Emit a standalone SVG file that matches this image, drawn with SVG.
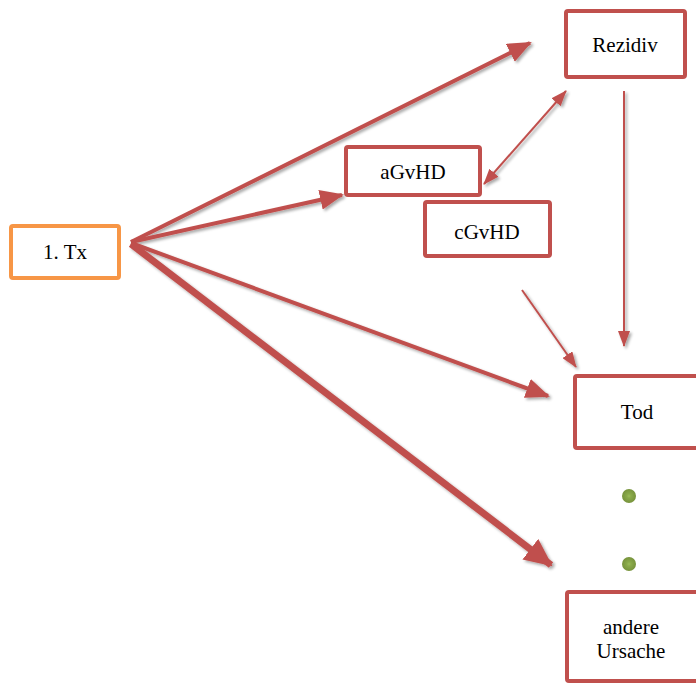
<svg xmlns="http://www.w3.org/2000/svg" width="696" height="684" viewBox="0 0 696 684">
<defs>
<style>
.box{fill:#fff;stroke:#C0504D;stroke-width:4}
.src{fill:#fff;stroke:#F79646;stroke-width:4}
.lbl{font-family:"Liberation Serif","Times New Roman",serif;font-size:21px;fill:#000;text-anchor:middle}
.thick{stroke:#C0504D;stroke-width:4;fill:none}
.thin{stroke:#C0504D;stroke-width:2;fill:none}
</style>
<marker id="ah" markerUnits="userSpaceOnUse" markerWidth="24" markerHeight="20" refX="22" refY="10" orient="auto">
<path d="M0,0 L24,10 L0,20 Z" fill="#C0504D"/>
</marker>
<marker id="ahb" markerUnits="userSpaceOnUse" markerWidth="28" markerHeight="26" refX="26" refY="13" orient="auto">
<path d="M0,0 L28,13 L0,26 Z" fill="#C0504D"/>
</marker>
<marker id="as" markerUnits="userSpaceOnUse" markerWidth="16" markerHeight="12" refX="15" refY="6" orient="auto">
<path d="M0,0 L16,6 L0,12 Z" fill="#C0504D"/>
</marker>
<marker id="as0" markerUnits="userSpaceOnUse" markerWidth="16" markerHeight="12" refX="1" refY="6" orient="auto">
<path d="M16,0 L0,6 L16,12 Z" fill="#C0504D"/>
</marker>
<filter id="sh" x="-10%" y="-10%" width="120%" height="120%">
<feGaussianBlur in="SourceAlpha" stdDeviation="1.5"/>
<feOffset dx="2" dy="2" result="b"/>
<feComponentTransfer><feFuncA type="linear" slope="0.35"/></feComponentTransfer>
<feMerge><feMergeNode/><feMergeNode in="SourceGraphic"/></feMerge>
</filter>
<radialGradient id="dot">
<stop offset="0" stop-color="#9BBB59"/>
<stop offset="0.3" stop-color="#8AAA4A"/>
<stop offset="1" stop-color="#77933C"/>
</radialGradient>
</defs>
<g id="connectors" filter="url(#sh)">
<line class="thick" x1="131" y1="242" x2="530" y2="43" marker-end="url(#ah)"/>
<line class="thick" x1="131" y1="242" x2="342" y2="195" marker-end="url(#ah)"/>
<line class="thick" x1="131" y1="243" x2="548" y2="396" marker-end="url(#ah)"/>
<line stroke="#C0504D" stroke-width="7" x1="131" y1="244" x2="551" y2="565" marker-end="url(#ahb)"/>
<line class="thin" x1="566" y1="91" x2="484" y2="184" marker-start="url(#as0)" marker-end="url(#as)"/>
<line class="thin" x1="624" y1="91" x2="624" y2="346" marker-end="url(#as)"/>
<line class="thin" x1="522" y1="290" x2="576" y2="367" marker-end="url(#as)"/>
</g>
<g id="n-tx"><rect class="src" x="11" y="226" width="108" height="52" rx="2"/><text class="lbl" x="65" y="259">1. Tx</text></g>
<g id="n-agvhd"><rect class="box" x="346" y="147" width="134" height="48" rx="2"/><text class="lbl" x="413" y="179">aGvHD</text></g>
<g id="n-cgvhd"><rect class="box" x="425" y="202" width="125" height="54" rx="2"/><text class="lbl" x="487" y="239">cGvHD</text></g>
<g id="n-rezidiv"><rect class="box" x="566" y="11" width="119" height="66" rx="2"/><text class="lbl" x="625" y="52">Rezidiv</text></g>
<g id="n-tod"><rect class="box" x="575" y="376" width="140" height="72" rx="2"/><text class="lbl" x="637" y="419">Tod</text></g>
<g id="n-dot1"><circle cx="629" cy="496" r="7" fill="url(#dot)"/></g>
<g id="n-dot2"><circle cx="629" cy="564" r="7" fill="url(#dot)"/></g>
<g id="n-andere"><rect class="box" x="567" y="592" width="150" height="89" rx="2"/><text class="lbl" x="631" y="634">andere</text><text class="lbl" x="631" y="658">Ursache</text></g>
</svg>
